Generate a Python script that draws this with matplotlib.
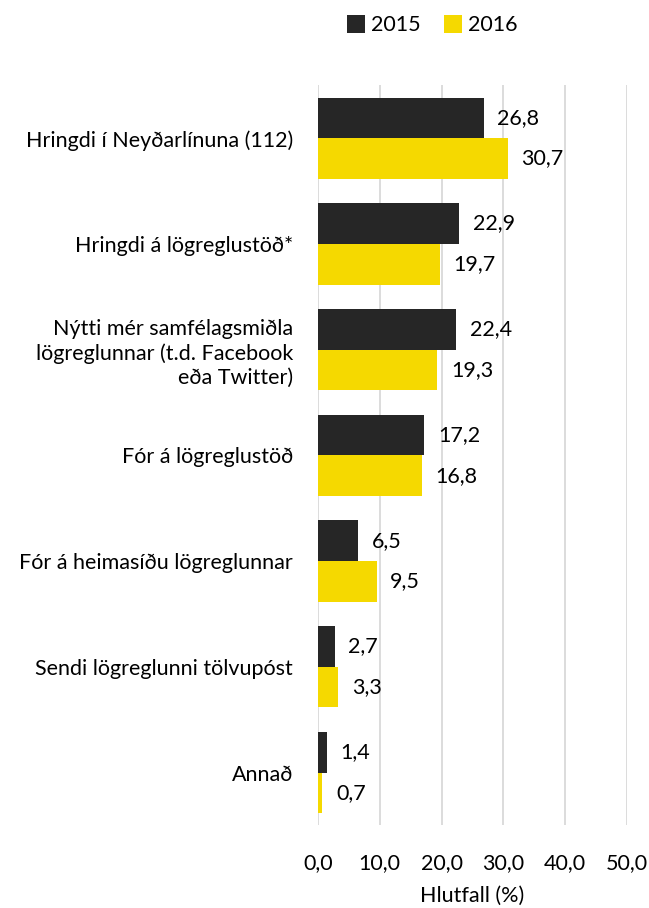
import numpy as np
import matplotlib.pyplot as plt

plt.rcParams['font.family'] = ['Lato', 'DejaVu Sans']

categories = ['Hringdi í Neyðarlínuna (112)',
              'Hringdi á lögreglustöð*',
              'Nýtti mér samfélagsmiðla\nlögreglunnar (t.d. Facebook\neða Twitter)',
              'Fór á lögreglustöð',
              'Fór á heimasíðu lögreglunnar',
              'Sendi lögreglunni tölvupóst',
              'Annað']
values_2015 = [26.8, 22.9, 22.4, 17.2, 6.5, 2.7, 1.4]
values_2016 = [30.7, 19.7, 19.3, 16.8, 9.5, 3.3, 0.7]
xticks = [0, 10, 20, 30, 40, 50]

c2015 = '#262626'
c2016 = '#f5d900'
fs = 15.5

fig = plt.figure(figsize=(6.49, 9.08), dpi=100)
ax = fig.add_axes([0.49, 0.091, 0.476, 0.815])

y = np.arange(len(categories))
h = 0.385
b1 = ax.barh(y - h / 2, values_2015, height=h, color=c2015, label='2015', zorder=3)
b2 = ax.barh(y + h / 2, values_2016, height=h, color=c2016, label='2016', zorder=3)

def fmt(v):
    return f'{v:.1f}'.replace('.', ',')

for bars, vals in ((b1, values_2015), (b2, values_2016)):
    for bar, v in zip(bars, vals):
        ax.text(v + 2.2, bar.get_y() + bar.get_height() / 2, fmt(v),
                va='center', ha='left', fontsize=fs, color='#000000')

ax.set_ylim(len(categories) - 0.5, -0.5)
ax.set_xlim(0, 50)
ax.set_yticks(y)
ax.set_yticklabels(categories, fontsize=fs, ha='right', linespacing=1.25)
ax.set_xticks(xticks)
ax.set_xticklabels([fmt(t) for t in xticks], fontsize=fs)
ax.tick_params(axis='both', length=0)
ax.tick_params(axis='y', pad=18)
ax.tick_params(axis='x', pad=20)
ax.grid(axis='x', color='#d9d9d9', linewidth=1.3, zorder=0)
for s in ax.spines.values():
    s.set_visible(False)
ax.set_xlabel('Hlutfall (%)', fontsize=fs, labelpad=9)

fig.legend(handles=[b1, b2], loc='center', bbox_to_anchor=(0.666, 0.972), ncol=2,
           frameon=False, fontsize=fs, handlelength=0.85, handleheight=0.85,
           handletextpad=0.25, columnspacing=1.1)

fig.savefig('out.png', dpi=100)
